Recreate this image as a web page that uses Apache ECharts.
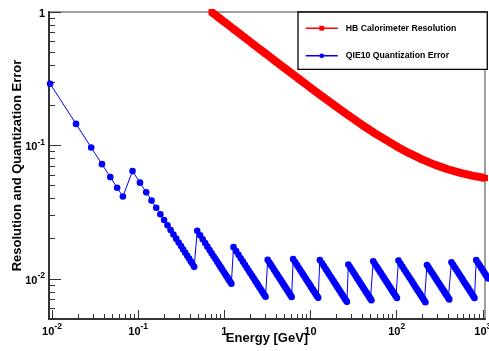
<!DOCTYPE html>
<html><head><meta charset="utf-8">
<script src="https://cdn.jsdelivr.net/npm/echarts@6/dist/echarts.min.js"></script>
<style>html,body{margin:0;padding:0;background:#fff}#c{width:489px;height:351px}</style>
</head><body><div id="c"></div>
<script>
// ---- data ----
const redName = 'HB Calorimeter Resolution';
const blueName = 'QIE10 Quantization Error';
const redEnergy = [0.71,0.85,1.0,1.3,1.7,2.2,3.0,4.0,5.5,7.5,10,14,20,28,40,55,75,100,140,200,280,400,550,750,1061];
const redResolution = [1.000,0.914,0.843,0.740,0.648,0.570,0.489,0.424,0.363,0.312,0.271,0.231,0.195,0.167,0.142,0.124,0.110,0.0983,0.0874,0.0782,0.0715,0.0660,0.0622,0.0594,0.0570];
const blueEnergy = [
  0.0095,0.019,0.0285,0.038,0.0475,0.057,0.0665,
  0.086,0.105,0.124,0.143,0.162,0.181,0.200,0.219,0.238,0.257,0.276,0.295,0.314,0.333,0.352,0.371,0.390,0.409,0.428,0.447,
  0.485,0.523,0.561,0.599,0.637,0.675,0.713,0.751,0.789,0.827,0.865,0.903,0.941,0.979,1.017,1.055,1.093,1.131,1.169,1.207,
  1.279,1.370,1.461,1.552,1.643,1.735,1.826,1.917,2.008,2.099,2.190,2.281,2.372,2.463,2.554,2.646,2.737,2.828,2.919,3.010,
  3.190,3.341,3.491,3.642,3.792,3.943,4.093,4.244,4.394,4.545,4.695,4.846,4.996,5.147,5.297,5.448,5.598,5.749,5.899,6.050,
  6.300,6.615,6.931,7.246,7.561,7.877,8.192,8.507,8.822,9.138,9.453,9.768,10.084,10.399,10.714,11.029,11.345,11.660,11.975,12.290,
  12.85,13.57,14.29,15.00,15.72,16.44,17.16,17.88,18.60,19.32,20.03,20.75,21.47,22.19,22.91,23.63,24.34,25.06,25.78,26.50,
  27.50,28.73,29.97,31.20,32.44,33.67,34.91,36.14,37.37,38.61,39.84,41.08,42.31,43.54,44.78,46.01,47.25,48.48,49.72,50.95,
  53.5,56.0,58.5,61.0,63.5,65.9,68.4,70.9,73.4,75.9,78.4,80.9,83.4,85.9,88.4,90.8,93.3,95.8,98.3,100.8,
  105.0,110.8,116.7,122.5,128.4,134.2,140.1,145.9,151.7,157.6,163.4,169.3,175.1,180.9,186.8,192.6,198.5,204.3,210.2,216.0,
  225.0,234.6,244.3,253.9,263.5,273.2,282.8,292.4,302.1,311.7,321.3,331.0,340.6,350.2,359.8,369.5,379.1,388.7,398.4,408.0,
  433.0,452.4,471.7,491.1,510.5,529.8,549.2,568.6,588.0,607.3,626.7,646.1,665.4,684.8,704.2,723.5,742.9,762.3,781.6,801.0,
  840,879,918,957,996,1035,1074,1113,1152
];
const blueError = [
  0.290,0.145,0.0965,0.0724,0.0579,0.0482,0.0414,
  0.0642,0.0526,0.0445,0.0386,0.0341,0.0305,0.0276,0.0252,0.0232,0.0215,0.0200,0.0187,0.0176,0.0166,0.0157,0.0149,0.0142,0.0135,0.0129,0.0123,
  0.02289,0.02122,0.01979,0.01853,0.01743,0.01644,0.01557,0.01478,0.01407,0.01342,0.01283,0.01229,0.01180,0.01134,0.01091,0.01052,0.01016,0.00981,0.00950,0.00920,
  0.01728,0.01613,0.01513,0.01424,0.01345,0.01274,0.01210,0.01153,0.01101,0.01053,0.01009,0.00969,0.00932,0.00897,0.00865,0.00835,0.00807,0.00781,0.00757,0.00734,
  0.01386,0.01323,0.01266,0.01214,0.01166,0.01121,0.01080,0.01041,0.01006,0.00973,0.00941,0.00912,0.00885,0.00859,0.00834,0.00811,0.00790,0.00769,0.00749,0.00731,
  0.01405,0.01338,0.01277,0.01221,0.01170,0.01124,0.01080,0.01040,0.01003,0.00968,0.00936,0.00906,0.00878,0.00851,0.00826,0.00802,0.00780,0.00759,0.00739,0.00720,
  0.01385,0.01312,0.01246,0.01187,0.01132,0.01083,0.01037,0.00996,0.00957,0.00921,0.00889,0.00858,0.00829,0.00802,0.00777,0.00753,0.00731,0.00710,0.00690,0.00672,
  0.01280,0.01225,0.01175,0.01128,0.01085,0.01045,0.01008,0.00974,0.00942,0.00912,0.00884,0.00857,0.00832,0.00808,0.00786,0.00765,0.00745,0.00726,0.00708,0.00691,
  0.01353,0.01293,0.01238,0.01187,0.01140,0.01099,0.01058,0.01021,0.00986,0.00954,0.00923,0.00895,0.00868,0.00843,0.00819,0.00797,0.00776,0.00756,0.00737,0.00718,
  0.01371,0.01300,0.01234,0.01176,0.01121,0.01073,0.01028,0.00987,0.00949,0.00914,0.00881,0.00851,0.00822,0.00796,0.00771,0.00748,0.00725,0.00705,0.00685,0.00667,
  0.01271,0.01219,0.01171,0.01126,0.01085,0.01047,0.01011,0.00978,0.00947,0.00918,0.00890,0.00864,0.00840,0.00817,0.00795,0.00774,0.00754,0.00736,0.00718,0.00701,
  0.01330,0.01273,0.01221,0.01173,0.01128,0.01087,0.01049,0.01013,0.00980,0.00948,0.00919,0.00892,0.00866,0.00841,0.00818,0.00796,0.00775,0.00756,0.00737,0.00719,
  0.01381,0.01320,0.01264,0.01212,0.01165,0.01121,0.01080,0.01042,0.01007
];
const xMajorTicks = [0.01,0.1,1,10,100,1000];
const xMinorTicks = [0.02,0.03,0.04,0.05,0.06,0.07,0.08,0.09,0.2,0.3,0.4,0.5,0.6,0.7,0.8,0.9,2,3,4,5,6,7,8,9,20,30,40,50,60,70,80,90,200,300,400,500,600,700,800,900];
const yMajorTicks = [0.01,0.1,1];
const yMinorTicks = [0.006,0.007,0.008,0.009,0.02,0.03,0.04,0.05,0.06,0.07,0.08,0.09,0.2,0.3,0.4,0.5,0.6,0.7,0.8,0.9];
const xTitle = 'Energy [GeV]';
const yTitle = 'Resolution and Quantization Error';

// ---- chart ----
const FF = "'Liberation Sans', Arial, Helvetica, sans-serif";
function powLabel(v){
  const e = Math.round(Math.log10(v));
  if (e === 0) return '{b|1}';
  if (e === 1) return '{b|10}';
  return '{b|10}{s|' + e + '}';
}
const rich = {
  b: {fontSize: 11, fontWeight: 'bold', fontFamily: FF, color: '#000', verticalAlign: 'bottom', padding: [4,0,0,0]},
  s: {fontSize: 8.5, fontWeight: 'bold', fontFamily: FF, color: '#000', verticalAlign: 'top'}
};
const XMIN = 0.00923, XMAX = 1061, YMIN = 0.005, YMAX = 1;
const axisDark = '#333';
function majorAxis(isX){
  return {
    type: 'log', logBase: 10, min: isX ? XMIN : YMIN, max: isX ? XMAX : YMAX,
    position: isX ? 'bottom' : 'left',
    axisLine: {show: true, onZero: false, lineStyle: {color: axisDark, width: 2}},
    axisTick: {show: true, inside: true, length: isX ? 9 : 12, customValues: isX ? xMajorTicks : yMajorTicks, lineStyle: {color: axisDark, width: 1}},
    axisLabel: {show: true, customValues: isX ? xMajorTicks : yMajorTicks, formatter: powLabel, rich: rich, margin: isX ? 3 : 4, showMaxLabel: true, showMinLabel: true, hideOverlap: false},
    splitLine: {show: false}, minorTick: {show: false},
    name: isX ? xTitle : yTitle, nameLocation: 'middle', nameGap: isX ? 13 : 25, nameMoveOverlap: false,
    nameTextStyle: {fontSize: 13, fontWeight: 'bold', fontFamily: FF, color: '#000'}
  };
}
function minorAxis(isX){
  return {
    type: 'log', logBase: 10, min: isX ? XMIN : YMIN, max: isX ? XMAX : YMAX,
    position: isX ? 'bottom' : 'left',
    axisLine: {show: false, onZero: false},
    axisTick: {show: true, inside: true, length: isX ? 5 : 6, customValues: isX ? xMinorTicks : yMinorTicks, lineStyle: {color: axisDark, width: 1}},
    axisLabel: {show: false},
    splitLine: {show: false}, minorTick: {show: false}
  };
}
const redData = redEnergy.map((e, i) => [e, redResolution[i]]);
const blueData = blueEnergy.map((e, i) => [e, blueError[i]]);

const chart = echarts.init(document.getElementById('c'), null, {renderer: 'canvas'});
chart.setOption({
  animation: false,
  backgroundColor: '#fff',
  grid: {left: 49, right: 4, top: 12, bottom: 32, show: true, borderColor: '#808080', borderWidth: 1.5, backgroundColor: 'transparent', containLabel: false, outerBoundsMode: 'none'},
  xAxis: [majorAxis(true), minorAxis(true)],
  yAxis: [majorAxis(false), minorAxis(false)],
  legend: {
    orient: 'vertical', left: 298, top: 12,
    padding: [11.7, 31, 9, 7], itemGap: 18.6, itemWidth: 32, itemHeight: 6,
    borderColor: '#000', borderWidth: 1.3, backgroundColor: '#fff', borderRadius: 0,
    textStyle: {fontFamily: FF, fontWeight: 'bold', fontSize: 8.7, color: '#000', padding: [0,0,0,3]},
    data: [
      {name: redName, lineStyle: {width: 1.5}},
      {name: blueName, lineStyle: {width: 1.5}}
    ]
  },
  series: [
    {
      name: redName, type: 'line', xAxisIndex: 0, yAxisIndex: 0, data: redData,
      symbol: 'rect', symbolSize: 6, showSymbol: true,
      lineStyle: {color: '#ff0000', width: 8}, itemStyle: {color: '#ff0000'}, z: 3
    },
    {
      name: blueName, type: 'line', xAxisIndex: 0, yAxisIndex: 0, data: blueData,
      symbol: 'circle', symbolSize: 6.6, showSymbol: true, clip: false,
      lineStyle: {color: '#0000ff', width: 1}, itemStyle: {color: '#0000ff'}, z: 2
    }
  ]
});
</script></body></html>
